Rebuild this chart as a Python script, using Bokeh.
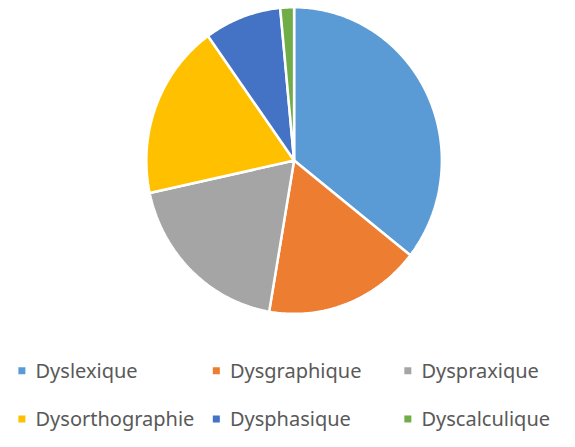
import numpy as np
from bokeh.plotting import figure
from bokeh.models import Range1d, ColumnDataSource
from bokeh.core.properties import value
from bokeh.embed import file_html
from bokeh.resources import INLINE

categories = ["Dyslexique", "Dysgraphique", "Dyspraxique",
              "Dysorthographie", "Dysphasique", "Dyscalculique"]
shares = [35.6, 17.1, 18.9, 18.5, 8.4, 1.5]
colors = ["#5B9BD5", "#ED7D31", "#A5A5A5", "#FFC000", "#4472C4", "#70AD47"]

W, H = 559, 431
# layout in reference-image pixels (y up), mapped onto the figure
REF_W, REF_H = 575, 447
CX, CY = 302, REF_H - 166
RX, RY = 152, 159

p = figure(width=W, height=H, output_backend="svg", toolbar_location=None,
           x_range=Range1d(0, REF_W), y_range=Range1d(0, REF_H),
           min_border=0)
p.axis.visible = False
p.grid.visible = False
p.outline_line_color = None
p.background_fill_color = "white"

vals = np.array(shares, dtype=float)
frac = vals / vals.sum()
ends = np.cumsum(frac) * 2 * np.pi
starts = ends - frac * 2 * np.pi
xs, ys = [], []
for s, e in zip(starts, ends):
    t = np.linspace(s, e, max(4, int((e - s) / 0.01)))
    px = CX + RX * np.sin(t)
    py = CY + RY * np.cos(t)
    xs.append(np.concatenate([[CX], px]).tolist())
    ys.append(np.concatenate([[CY], py]).tolist())
p.patches(xs=xs, ys=ys, fill_color=colors, line_color="white", line_width=2.5)

# legend
mx = [22, 222, 419, 22, 222, 419]
row_y = [REF_H - 384, REF_H - 434]
my = [row_y[0]] * 3 + [row_y[1]] * 3
src = ColumnDataSource(dict(x=mx, y=my, c=colors, t=categories,
                            tx=[m + 14 for m in mx]))
p.scatter(x="x", y="y", source=src, marker="square", size=7,
          fill_color="c", line_color=None)
p.text(x="tx", y="y", text="t", source=src, text_font=value("Noto Sans"),
       text_font_size="20px", text_color="#595959", text_baseline="middle")

open("out.html", "w").write(file_html(p, INLINE))
